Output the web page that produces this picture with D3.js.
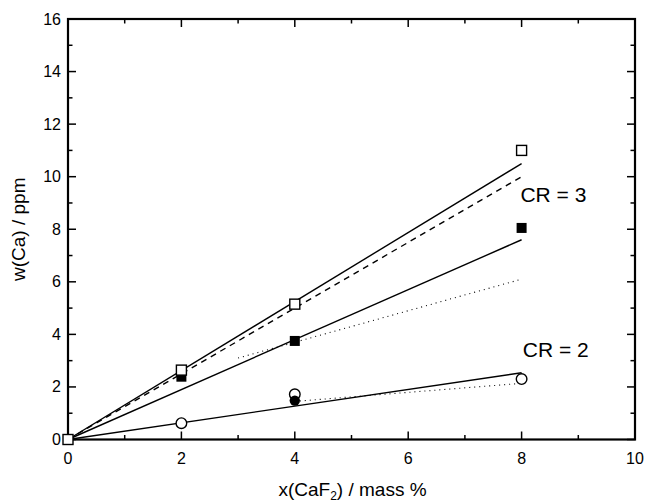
<!DOCTYPE html>
<html>
<head>
<meta charset="utf-8">
<script src="https://cdn.jsdelivr.net/npm/d3@7"></script>
<style>
  html, body { margin: 0; padding: 0; background: #fff; }
  svg { display: block; font-family: Arial, "Liberation Sans", sans-serif; }
</style>
</head>
<body>
<svg id="chart" width="647" height="504"></svg>
<script>
// ---- data ----
const xTicks = [0, 2, 4, 6, 8, 10];
const yTicks = [0, 2, 4, 6, 8, 10, 12, 14, 16];
const openSquares = [[0, 0], [2, 2.64], [4, 5.15], [8, 11.0]];
const filledSquares = [[2, 2.39], [4, 3.75], [8, 8.05]];
const openCircles = [[2, 0.62], [4, 1.72], [8, 2.3]];
const filledCircles = [[4, 1.48]];
const fitOpenSq = [[0, 0], [8, 10.5]];
const fitDashed = [[0, 0], [8, 10.0]];
const fitFilledSq = [[0, 0], [8, 7.6]];
const dotFilledSq = [[3, 3.1], [8, 6.1]];
const fitCircles = [[0, 0], [8, 2.54]];
const dotCircles = [[4, 1.45], [7.9, 2.12]];
const labels = [{t: "CR = 3", x: 7.98, y: 9.05}, {t: "CR = 2", x: 8.02, y: 3.15}];

// ---- layout ----
const svg = d3.select("#chart");
const L = 68, R = 635, T = 19, B = 439.5;
const x = d3.scaleLinear().domain([0, 10]).range([L, R]);
const y = d3.scaleLinear().domain([0, 16]).range([B, T]);
const minorX = d3.range(0, 10.01, 1);
const minorY = d3.range(0, 16.01, 1);

// ticks (inward, on all four sides)
const tg = svg.append("g").attr("stroke", "#000").attr("stroke-width", 1.5);
minorX.forEach(v => {
  const len = (v % 2 === 0) ? 8 : 4.5;
  tg.append("line").attr("x1", x(v)).attr("x2", x(v)).attr("y1", B).attr("y2", B - len);
  tg.append("line").attr("x1", x(v)).attr("x2", x(v)).attr("y1", T).attr("y2", T + len);
});
minorY.forEach(v => {
  const len = (v % 2 === 0) ? 8 : 4.5;
  tg.append("line").attr("y1", y(v)).attr("y2", y(v)).attr("x1", L).attr("x2", L + len);
  tg.append("line").attr("y1", y(v)).attr("y2", y(v)).attr("x1", R).attr("x2", R - len);
});

// frame
svg.append("rect").attr("x", L).attr("y", T).attr("width", R - L).attr("height", B - T)
  .attr("fill", "none").attr("stroke", "#000").attr("stroke-width", 2.2);

// tick labels
svg.append("g").selectAll("text").data(xTicks).join("text")
  .attr("x", d => x(d)).attr("y", 464).attr("text-anchor", "middle")
  .attr("font-size", 16).text(d => d);
svg.append("g").selectAll("text").data(yTicks).join("text")
  .attr("x", 61).attr("y", d => y(d) + 5.5).attr("text-anchor", "end")
  .attr("font-size", 16).text(d => d);

// axis titles
const xt = svg.append("text").attr("x", (L + R) / 2 + 1).attr("y", 496)
  .attr("text-anchor", "middle").attr("font-size", 19);
xt.append("tspan").text("x(CaF");
xt.append("tspan").attr("font-size", 12).attr("dy", 4).text("2");
xt.append("tspan").attr("dy", -4).text(") / mass %");
svg.append("text").attr("transform", `translate(25,${(T + B) / 2}) rotate(-90)`)
  .attr("text-anchor", "middle").attr("font-size", 19).text("w(Ca) / ppm");

// lines
const line = d3.line().x(d => x(d[0])).y(d => y(d[1]));
const lg = svg.append("g").attr("fill", "none").attr("stroke", "#000");
lg.append("path").datum(fitOpenSq).attr("d", line).attr("stroke-width", 1.4);
lg.append("path").datum(fitDashed).attr("d", line).attr("stroke-width", 1.4).attr("stroke-dasharray", "6,5");
lg.append("path").datum(fitFilledSq).attr("d", line).attr("stroke-width", 1.4);
lg.append("path").datum(dotFilledSq).attr("d", line).attr("stroke-width", 1.1).attr("stroke-dasharray", "1,4");
lg.append("path").datum(fitCircles).attr("d", line).attr("stroke-width", 1.4);
lg.append("path").datum(dotCircles).attr("d", line).attr("stroke-width", 1.1).attr("stroke-dasharray", "1,4");

// markers
const S = 10;
svg.append("g").selectAll("rect").data(filledSquares).join("rect")
  .attr("x", d => x(d[0]) - S / 2).attr("y", d => y(d[1]) - S / 2)
  .attr("width", S).attr("height", S).attr("fill", "#000");
svg.append("g").selectAll("rect").data(openSquares).join("rect")
  .attr("x", d => x(d[0]) - S / 2).attr("y", d => y(d[1]) - S / 2)
  .attr("width", S).attr("height", S).attr("fill", "#fff").attr("stroke", "#000").attr("stroke-width", 1.4);
svg.append("g").selectAll("circle").data(openCircles).join("circle")
  .attr("cx", d => x(d[0])).attr("cy", d => y(d[1])).attr("r", 5.3)
  .attr("fill", "#fff").attr("stroke", "#000").attr("stroke-width", 1.4);
svg.append("g").selectAll("circle").data(filledCircles).join("circle")
  .attr("cx", d => x(d[0])).attr("cy", d => y(d[1])).attr("r", 5.2).attr("fill", "#000");

// annotations
svg.append("g").selectAll("text").data(labels).join("text")
  .attr("x", d => x(d.x)).attr("y", d => y(d.y)).attr("font-size", 21).text(d => d.t);
</script>
</body>
</html>
